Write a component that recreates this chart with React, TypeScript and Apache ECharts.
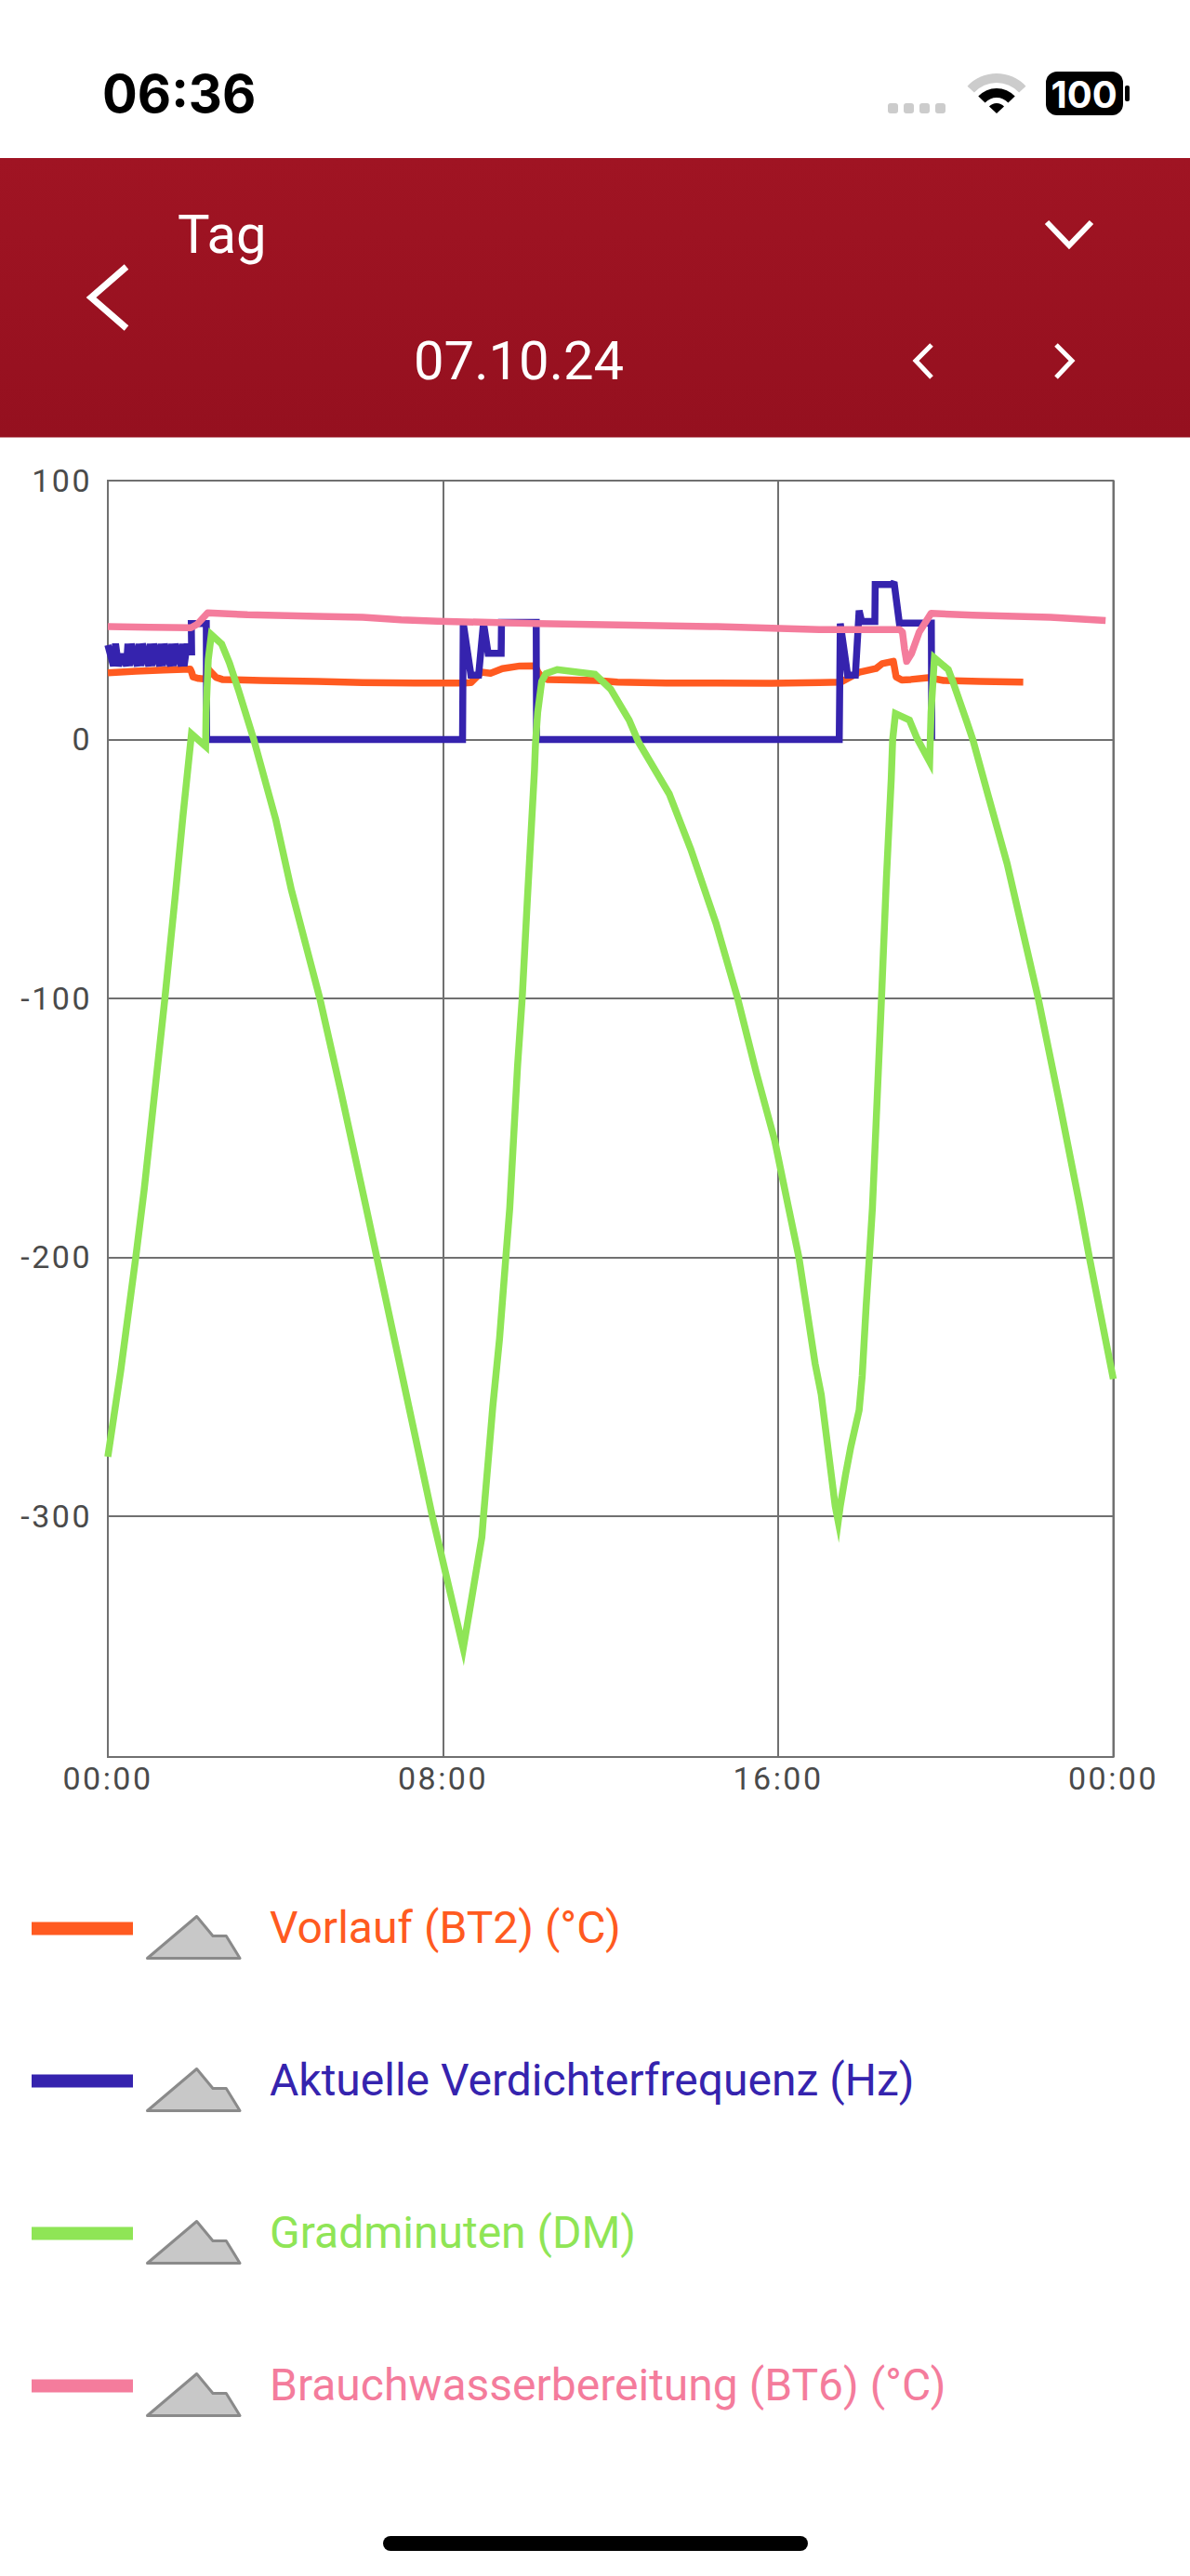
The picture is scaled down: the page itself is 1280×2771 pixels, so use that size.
import React, { useEffect, useRef } from "react";
import * as echarts from "echarts";

const statusTime = "06:36";
const batteryText = "100";
const periodLabel = "Tag";
const dateLabel = "07.10.24";
const yTicks = [-300, -200, -100, 0, 100];

const legendNames = [
  "Vorlauf (BT2) (°C)",
  "Aktuelle Verdichterfrequenz (Hz)",
  "Gradminuten (DM)",
  "Brauchwasserbereitung (BT6) (°C)",
];
const seriesColors = ["#FF5A20", "#3523AE", "#8FE556", "#F47C9C"];
const lineJoins = ["round", "miter", "miter", "round"];
const miterLimits = [2, 2, 9, 2];

const vorlauf = [
  [0, 25.8], [40, 26.4], [80, 26.8], [118, 27.2], [120, 26], [122, 24.2], [130, 23.6], [137, 23.4], [141, 23.4],
  [142, 28], [146, 26.5], [155, 24], [164, 23.2], [220, 22.8], [300, 22.4], [365, 22], [440, 21.8], [510, 21.8],
  [520, 22], [535, 26], [548, 25.6], [565, 27.4], [590, 28.4], [612, 28.5], [616, 26], [622, 24], [630, 23.2],
  [700, 22.8], [730, 22.2], [800, 21.8], [872, 21.8], [950, 21.7], [1019, 22], [1050, 22.2], [1076, 26],
  [1100, 27.4], [1109, 29.3], [1125, 30.2], [1129, 24.2], [1137, 23], [1150, 23.2], [1175, 23.9], [1197, 22.8],
  [1250, 22.4], [1311, 22.2],
];

const verdichter = [
  [0, 36.5], [8, 28.4], [11, 37], [15.3, 28.4], [21, 33], [26.7, 28.4], [28.8, 37], [30.8, 28.4], [33.5, 37], [36.5, 33],
  [42.2, 28.4], [44.5, 37], [47.3, 28.4], [49.5, 37], [53, 33], [58.7, 28.4], [60.7, 37], [62.8, 28.4], [65.5, 37], [68.5, 33],
  [74.2, 28.4], [76.2, 37], [78.3, 28.4], [81, 37], [84, 33], [89.7, 28.4], [91.7, 37], [93.8, 28.4], [96.5, 37], [99.5, 33],
  [105.2, 28.4], [107.2, 37], [109.2, 28.4], [113, 35.8], [117, 35.8], [119, 33.8], [120, 33.8], [119.5, 44.8],
  [141, 44.8], [141.5, 0], [508, 0], [509, 45], [520, 24.9], [531, 24.9], [538, 45], [544.6, 33.3], [563.3, 33.3],
  [563.8, 45.2], [613.5, 45.2], [614, 0], [1047.5, 0], [1049, 44.8], [1059.5, 24.9], [1070.6, 24.9], [1076, 49.8],
  [1079.6, 45.6], [1098.5, 45.6], [1099, 59.9], [1123, 59.9], [1126, 60.8], [1133.6, 45], [1179.4, 45], [1180, 0],
];

const gradminuten = [
  [0, -277], [18.6, -243.5], [40, -200], [52, -174], [81.7, -100], [96.3, -61], [107.4, -30], [119.8, 2.2],
  [140, -2.6], [140.7, 10.5], [143.8, 30.9], [148.2, 40.5], [163, 36.9], [174, 29.7], [187.3, 18.9], [209, 0],
  [240.6, -31], [262.8, -58], [303.6, -100], [333.8, -136], [369.3, -180], [386, -201], [422.6, -247],
  [464.7, -300], [509, -351], [522.4, -329.6], [535.7, -308], [538, -300], [551.3, -257.7], [561, -231.4], [570, -200],
  [575.6, -181], [586.8, -126], [593.4, -100], [601, -61], [611, -12], [612.5, -1.4], [615.6, 10.5], [621.4, 22.5],
  [627.6, 25.5], [643.6, 27], [697.7, 25.2], [720, 19.5], [746.6, 7.5], [760, -1], [804, -21], [835, -42.5],
  [871, -71], [902, -100], [928.5, -128.4], [955, -154.8], [975, -181], [989.7, -200], [1012.9, -241], [1021.7, -253],
  [1041.7, -296], [1046, -302], [1049, -296], [1056.5, -284], [1064, -273.3], [1076, -259], [1080.4, -245.8],
  [1086, -219], [1090.6, -200], [1095, -181], [1108, -100], [1115, -54], [1122, -15], [1124, 0], [1128, 10],
  [1148, 7.5], [1159, 0.4], [1177, -8.6], [1179, 10.5], [1183.8, 31.5], [1203.7, 27], [1210, 22.5], [1230, 7],
  [1239, -0.2], [1261, -21.8], [1288, -48], [1332.5, -100], [1363.5, -141], [1392, -180], [1405.7, -200], [1440, -247],
];

const brauchwasser = [
  [0, 43.6], [60, 43.4], [119, 43.2], [128, 44.5], [143, 48.9], [200, 48.2], [300, 47.6], [365, 47.2], [420, 46.2],
  [472, 45.7], [614, 44.8], [750, 44.2], [872, 43.6], [1019, 42.5], [1134, 42.5], [1138, 41.5], [1141, 35], [1144, 30.2],
  [1151, 33.2], [1162, 41.5], [1179, 48.7], [1239, 48], [1350, 47.2], [1429, 46],
];

const seriesValues = [vorlauf, verdichter, gradminuten, brauchwasser];

const FONT = "Roboto, sans-serif";

function chevron(points: number[][], lineWidth: number) {
  return { type: "polyline", shape: { points }, style: { stroke: "#fff", lineWidth, fill: "none", lineCap: "butt", lineJoin: "miter" } };
}

function headerGraphics() {
  const wedge = (r0: number, r: number, fill: string) => ({
    type: "sector",
    shape: { cx: 1072, cy: 122, r0, r, startAngle: (-137 * Math.PI) / 180, endAngle: (-43 * Math.PI) / 180, clockwise: true },
    style: { fill },
  });
  const dots = [955, 972, 989, 1006].map((x) => ({
    type: "rect",
    shape: { x, y: 111, width: 11, height: 11, r: 3 },
    style: { fill: "#cccccc" },
  }));
  return [
    { type: "rect", shape: { x: 0, y: 170, width: 1280, height: 300.5 }, style: { fill: new echarts.graphic.LinearGradient(0, 0, 0, 1, [{ offset: 0, color: "#A01423" }, { offset: 1, color: "#95101F" }]) } },
    { type: "text", x: 110, y: 101, style: { text: statusTime, fontFamily: "Inter, sans-serif", fontWeight: 700, fontSize: 56, fill: "#000", align: "left", verticalAlign: "middle" } },
    ...dots,
    wedge(33, 43, "#cccccc"),
    wedge(17, 27, "#000000"),
    wedge(0, 11, "#000000"),
    { type: "rect", shape: { x: 1125, y: 77, width: 83, height: 47, r: 12 }, style: { fill: "#000" } },
    { type: "rect", shape: { x: 1210, y: 92, width: 5, height: 17, r: 2 }, style: { fill: "#000" } },
    { type: "text", x: 1166, y: 101, style: { text: batteryText, fontFamily: "Inter, sans-serif", fontWeight: 700, fontSize: 40, fill: "#fff", align: "center", verticalAlign: "middle" } },
    { type: "text", x: 191, y: 252, style: { text: periodLabel, fontFamily: FONT, fontSize: 58, fill: "#fff", align: "left", verticalAlign: "middle" } },
    { type: "text", x: 445, y: 388, style: { text: dateLabel, fontFamily: FONT, fontSize: 58, fill: "#fff", align: "left", verticalAlign: "middle" } },
    chevron([[136, 287], [98, 320], [136, 353]], 7),
    chevron([[1126, 239], [1150, 264], [1174, 239]], 6),
    chevron([[1002, 371], [985, 388], [1002, 406]], 5),
    chevron([[1136, 371], [1153, 388], [1136, 406]], 5),
    { type: "rect", shape: { x: 412, y: 2728, width: 457, height: 16, r: 8 }, style: { fill: "#000" } },
  ];
}

function legendGraphics() {
  const out: any[] = [];
  legendNames.forEach((name, i) => {
    const cy = 2074.5 + i * 164;
    out.push({ type: "rect", shape: { x: 34, y: cy - 7, width: 109, height: 14 }, style: { fill: seriesColors[i] } });
    out.push({
      type: "polygon",
      shape: { points: [[158.5, cy + 32], [211.6, cy - 13], [229, cy + 8], [243.3, cy + 8], [258, cy + 32]] },
      style: { fill: "#C8C8C8", stroke: "#8A8A8A", lineWidth: 3, lineJoin: "round" },
    });
    out.push({ type: "text", x: 290, y: cy - 1, style: { text: name, fontFamily: FONT, fontSize: 48, fill: seriesColors[i], align: "left", verticalAlign: "middle" } });
  });
  return out;
}

export default function App() {
  const ref = useRef<HTMLDivElement>(null);
  useEffect(() => {
    document.body.style.margin = "0";
    const chart = echarts.init(ref.current!, undefined, { renderer: "svg" });
    chart.setOption({
      animation: false,
      backgroundColor: "#fff",
      grid: { left: 116, top: 517, width: 1081.5, height: 1373, show: true, borderColor: "#707070", borderWidth: 2, backgroundColor: "transparent" },
      xAxis: {
        type: "value",
        min: 0,
        max: 1440,
        interval: 480,
        axisLine: { show: false },
        axisTick: { show: false },
        axisLabel: {
          margin: 6,
          fontFamily: FONT,
          fontSize: 34,
          color: "#4A4A4A",
          formatter: (v: number) => {
            const h = Math.floor(v / 60) % 24;
            return `${String(h).padStart(2, "0")}:00`;
          },
        },
        splitLine: { show: true, lineStyle: { color: "#707070", width: 2 } },
      },
      yAxis: {
        type: "value",
        min: -393,
        max: 100,
        axisLine: { show: false },
        axisTick: { show: false, customValues: yTicks },
        axisLabel: { customValues: yTicks, margin: 17, fontFamily: FONT, fontSize: 34, color: "#4A4A4A" },
        splitLine: { show: true, lineStyle: { color: "#707070", width: 2 } },
      },
      series: seriesValues.map((data, i) => ({
        name: legendNames[i],
        type: "line",
        data,
        showSymbol: false,
        symbol: "none",
        smooth: false,
        clip: true,
        lineStyle: { color: seriesColors[i], width: 7.5, join: lineJoins[i], miterLimit: miterLimits[i], cap: "butt" },
        z: 3 + i,
      })),
      graphic: { elements: [...headerGraphics(), ...legendGraphics()] },
    });
    return () => chart.dispose();
  }, []);
  return (
    <>
      <style>{`text[style*="34px"]{letter-spacing:2.5px}`}</style>
      <div ref={ref} style={{ position: "absolute", left: 0, top: 0, width: 1280, height: 2771 }} />
    </>
  );
}
